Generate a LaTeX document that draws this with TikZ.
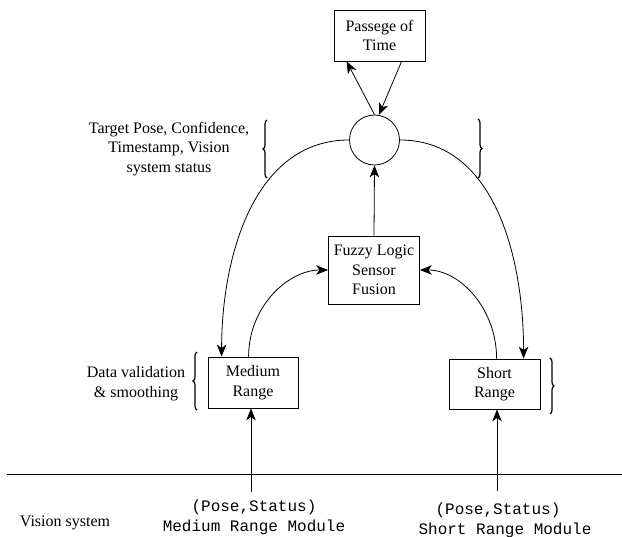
\documentclass[tikz,border=0pt]{standalone}
\usepackage{fontspec}
\setmainfont{Liberation Serif}
\setmonofont{Liberation Mono}
\usetikzlibrary{arrows.meta,decorations.pathreplacing,calc}
\begin{document}
\begin{tikzpicture}[x=1pt,y=-1pt,
  every node/.style={font=\fontsize{16}{19.5}\selectfont},
  box/.style={draw,line width=0.8pt,minimum width=91pt,minimum height=51pt,inner sep=0pt,align=center},
  hubstyle/.style={draw,circle,line width=0.8pt,minimum size=50pt,inner sep=0pt},
  link/.style={line width=0.8pt,-{Stealth[length=12pt,width=9.5pt,inset=3.5pt]}},
  plain/.style={line width=0.8pt},
  brc/.style={decorate,decoration={brace,amplitude=4pt},line width=1.2pt},
  lbl/.style={align=center,inner sep=0pt},
  code/.style={font=\ttfamily\fontsize{16}{19.5}\selectfont,inner sep=0pt}]
\useasboundingbox (0,0) rectangle (622,537);

% blocks
\node[box] (time) at (379.5,35.5) {Passege of\\Time};
\node[hubstyle] (hub) at (374.5,140) {};
\node[box,minimum height=68pt] (fuzzy) at (374,270) {Fuzzy Logic\\Sensor\\Fusion};
\node[box,minimum width=90pt] (med) at (253,382.5) {Medium\\Range};
\node[box,minimum height=50pt] (short) at (494.5,384) {Short\\Range};

% labels
\node[lbl] (tp) at (169,149) {Target Pose, Confidence,\\Timestamp, Vision\\system status};
\node[lbl] (dv) at (136,383.5) {Data validation\\\& smoothing};
\node[lbl] (vs) at (65,523) {Vision system};
\node[code] (mps) at (254,507) {(Pose,Status)};
\node[code] (mrm) at (254,527) {Medium Range Module};
\node[code] (sps) at (498,510) {(Pose,Status)};
\node[code] (srm) at (505,530) {Short Range Module};

% braces
\draw[brc] (267,178) -- (267,120);
\draw[brc] (478,119) -- (478,178);
\draw[brc] (197,410) -- (197,352);
\draw[brc] (550,358) -- (550,414);

% separator of the vision system
\coordinate (sepl) at (7,474);
\coordinate (sepr) at (622,474);
\draw[plain] (sepl) -- (sepr);

% module inputs
\coordinate (medin) at (251,492);
\coordinate (shortin) at (497,491);
\draw[link] (medin) -- (medin |- med.south);
\draw[link] (shortin) -- (shortin |- short.south);

% connectors
\draw[link] (hub.north) -- ([xshift=13pt]time.south west);
\draw[link] ([xshift=68pt]time.south west) -- (hub.80);
\draw[link] (fuzzy.north) -- (hub.south);
\draw[link] (hub.west) .. controls +(-95,0) and +(0,-100) .. ([xshift=14pt]med.north west);
\draw[link] (hub.east) .. controls +(95,0) and +(0,-100) .. ([xshift=75pt]short.north west);
\draw[link] ([xshift=41pt]med.north west) .. controls +(0,-50) and +(-40,0) .. (fuzzy.west);
\draw[link] ([xshift=48pt]short.north west) .. controls +(0,-50) and +(40,0) .. (fuzzy.east);
\end{tikzpicture}
\end{document}
